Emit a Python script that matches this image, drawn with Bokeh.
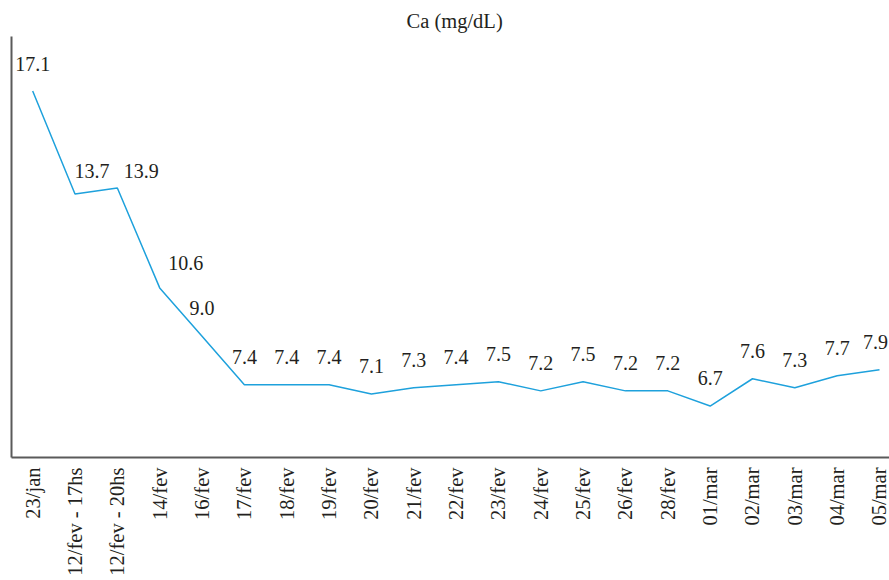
from bokeh.plotting import figure
from bokeh.models import ColumnDataSource, FixedTicker, LabelSet, Range1d
from bokeh.embed import file_html
from bokeh.resources import INLINE

categories = ["23/jan", "12/fev - 17hs", "12/fev - 20hs", "14/fev", "16/fev",
              "17/fev", "18/fev", "19/fev", "20/fev", "21/fev", "22/fev",
              "23/fev", "24/fev", "25/fev", "26/fev", "28/fev", "01/mar",
              "02/mar", "03/mar", "04/mar", "05/mar"]
ca_values = [17.1, 13.7, 13.9, 10.6, 9.0, 7.4, 7.4, 7.4, 7.1, 7.3, 7.4,
             7.5, 7.2, 7.5, 7.2, 7.2, 6.7, 7.6, 7.3, 7.7, 7.9]
value_labels = ["%.1f" % v for v in ca_values]

# label nudges (screen px) to mimic the hand-placed labels of the original
label_dx = [0, 17, 24, 26] + [0] * 16 + [-4]
label_dy = [20, 16, 10, 18] + [21] * 17

FONT = "Liberation Serif"
TXT = "#231f20"

xs = list(range(len(categories)))
src = ColumnDataSource(dict(x=xs, y=ca_values, lab=value_labels,
                            dx=label_dx, dy=label_dy))

p = figure(width=889, height=580, output_backend="svg", toolbar_location=None,
           x_range=Range1d(-0.5, len(categories) - 1 + 0.236),
           y_range=Range1d(5, 18.9),
           min_border_left=11, min_border_right=0, min_border_top=36,
           min_border_bottom=123)

p.title.text = "Ca (mg/dL)"
p.title.align = "left"
p.title.offset = 395
p.title.text_font = FONT
p.title.text_font_size = "20.5px"
p.title.text_font_style = "normal"
p.title.text_color = TXT

p.line("x", "y", source=src, line_color="#1ea1dc", line_width=1.5)

labels = LabelSet(x="x", y="y", text="lab", source=src, x_offset="dx", y_offset="dy",
                  text_align="center", text_baseline="alphabetic",
                  text_font=FONT, text_font_size="20px", text_color=TXT)
p.add_layout(labels)

p.xaxis.ticker = FixedTicker(ticks=xs)
p.xaxis.major_label_overrides = {i: c for i, c in enumerate(categories)}
p.xaxis.major_label_orientation = 3.14159265 / 2
p.xaxis.major_label_text_font = FONT
p.xaxis.major_label_text_font_size = "20.5px"
p.xaxis.major_label_text_color = TXT
p.xaxis.major_label_standoff = 10
p.xaxis.major_tick_line_color = None
p.xaxis.minor_tick_line_color = None
p.xaxis.major_tick_out = 0
p.xaxis.axis_line_color = "#5a5a5a"
p.xaxis.axis_line_width = 2

p.yaxis.ticker = FixedTicker(ticks=[])
p.yaxis.major_tick_line_color = None
p.yaxis.minor_tick_line_color = None
p.yaxis.major_label_text_font_size = "0px"
p.yaxis.axis_line_color = "#5a5a5a"
p.yaxis.axis_line_width = 2

p.xgrid.visible = False
p.ygrid.visible = False
p.outline_line_color = None
p.background_fill_color = "white"
p.border_fill_color = "white"

open("out.html", "w").write(file_html(p, INLINE))
